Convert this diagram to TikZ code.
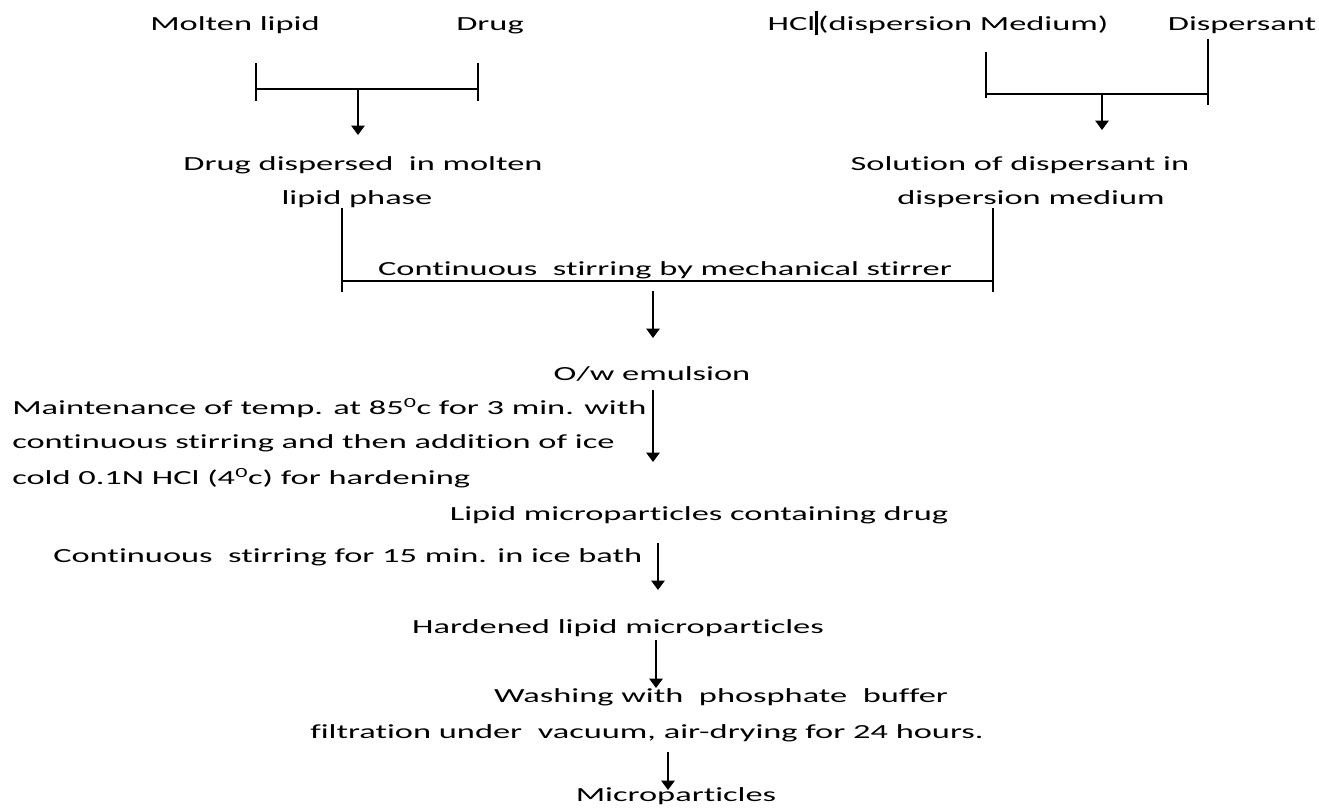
\documentclass[tikz,border=0pt]{standalone}
\usepackage{fontspec}
\setmainfont{Carlito}[FakeStretch=1.72,Ligatures=NoCommon]
\usetikzlibrary{arrows.meta}
\newcommand\flowfont{\fontsize{15}{18}\selectfont}
\tikzset{
    txt/.style={font=\flowfont, inner sep=0pt, anchor=base},
    flow/.style={line width=1.1pt},
    down/.style={flow, -{Triangle[width=10pt,length=7pt]}},
}

\begin{document}
\begin{tikzpicture}[x=0.75pt,y=-0.75pt]
    \useasboundingbox (0,0) rectangle (1319,807);
    % inputs
    \node[txt] (lipid) at (235,30) {Molten lipid};
    \node[txt] (drug) at (490,30) {Drug};
    \node[txt] (hcl) at (938,30) {HCl\rule[-4pt]{2.2pt}{18pt}(dispersion Medium)};
    \node[txt] (dispersant) at (1242,30) {Dispersant};
    % first merge, left
    \draw[flow] (256,63) -- (256,101);
    \draw[flow] (478,63) -- (478,101);
    \draw[flow] (256,89) -- (478,89);
    \coordinate (ltop) at (358,89);
    \coordinate (lend) at (358,135);
    \draw[down] (ltop) -- (lend);
    % first merge, right
    \draw[flow] (986,52) -- (986,98);
    \draw[flow] (1208,39) -- (1208,105);
    \draw[flow] (986,94) -- (1208,94);
    \coordinate (rtop) at (1102,94);
    \coordinate (rend) at (1102,130);
    \draw[down] (rtop) -- (rend);
    \node[txt] (dispersed) at (363,170) {Drug dispersed\ \ in molten};
    \node[txt] (phase) at (357,204) {lipid phase};
    \node[txt] (solution) at (1020,170) {Solution of dispersant in};
    \node[txt] (medium) at (1031,204) {dispersion medium};
    % stirring
    \draw[flow] (342,208) -- (342,292);
    \draw[flow] (993,208) -- (993,292);
    \draw[flow] (342,281) -- (993,281);
    \node[txt] (stir) at (665,275) {Continuous\ \ stirring by mechanical stirrer};
    \coordinate (s1) at (653,291);
    \coordinate (e1) at (653,338);
    \draw[down] (s1) -- (e1);
    \node[txt] (emulsion) at (652,380) {O/w emulsion};
    % hardening step
    \node[txt,anchor=base west] (temp1) at (12,414) {Maintenance of temp. at 85\textsuperscript{0}c for 3 min. with};
    \node[txt,anchor=base west] (temp2) at (12,448) {continuous stirring and then addition of ice};
    \node[txt,anchor=base west] (temp3) at (12,484) {cold 0.1N HCl (4\textsuperscript{0}c) for hardening};
    \coordinate (s2) at (653,390);
    \coordinate (e2) at (653,462);
    \draw[down] (s2) -- (e2);
    \node[txt] (lmp) at (699,520) {Lipid microparticles containing drug};
    \node[txt,anchor=base west] (icebath) at (53,562) {Continuous\ \ stirring for 15 min. in ice bath};
    \coordinate (s3) at (658,543);
    \coordinate (e3) at (658,590);
    \draw[down] (s3) -- (e3);
    \node[txt] (hardened) at (618,633) {Hardened lipid microparticles};
    \coordinate (s4) at (656,640);
    \coordinate (e4) at (656,688);
    \draw[down] (s4) -- (e4);
    \node[txt] (washing) at (721,702) {Washing with\ \ phosphate\ \ buffer};
    \node[txt] (filtration) at (647,738) {filtration under\ \ vacuum, air-drying for 24 hours.};
    \coordinate (s5) at (668,752);
    \coordinate (e5) at (668,790);
    \draw[down] (s5) -- (e5);
    \node[txt] (micro) at (676,801) {Microparticles};
\end{tikzpicture}
\end{document}
